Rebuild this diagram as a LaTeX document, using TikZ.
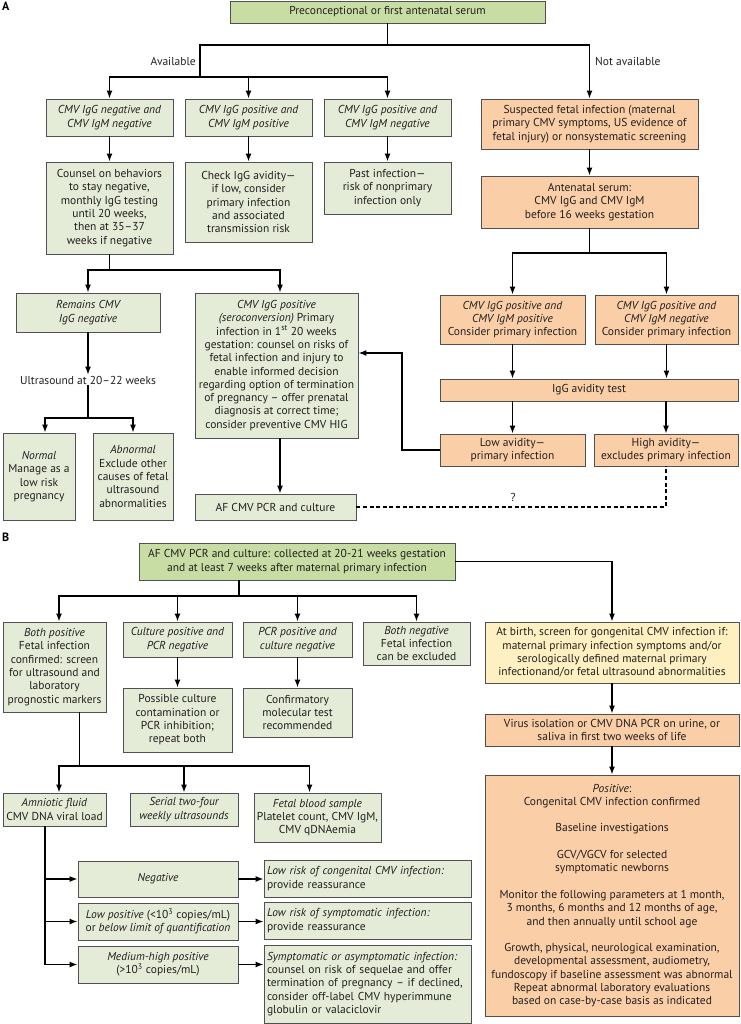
\documentclass[tikz,border=0pt]{standalone}
\usepackage{fontspec}
\setmainfont{PT Sans}
\usetikzlibrary{arrows.meta,calc}
\definecolor{lgreen}{RGB}{228,235,214}
\definecolor{dgreen}{RGB}{200,221,163}
\definecolor{orng}{RGB}{250,206,166}
\definecolor{ylw}{RGB}{254,240,192}
\definecolor{boxline}{RGB}{80,80,80}
\definecolor{txt}{RGB}{35,31,32}
\hyphenpenalty=10000
\exhyphenpenalty=10000
\newcommand{\bx}[7]{%
  \pgfmathsetmacro\bxX{(#3+#5)/2}%
  \pgfmathsetmacro\bxY{(#4+#6)/2}%
  \pgfmathsetmacro\bxW{#5-#3}%
  \pgfmathsetmacro\bxH{#6-#4}%
  \node[box,#1,minimum width=\bxW pt,minimum height=\bxH pt] (#2) at (\bxX,\bxY) {#7};}
\begin{document}
\begin{tikzpicture}[x=1pt,y=-1pt,
  box/.style={draw=boxline,line width=0.9pt,fill=lgreen,inner sep=0pt,align=center,
    text=txt,font=\fontsize{11.5pt}{13.3pt}\selectfont},
  dk/.style={fill=dgreen},
  or/.style={fill=orng},
  yl/.style={fill=ylw},
  lft/.style={align=left,text width=#1},
  ln/.style={line width=1.3pt,draw=black},
  arr/.style={ln,-{Latex[length=8pt,width=6pt]}},
  dsh/.style={ln,dash pattern=on 4pt off 2.6pt},
  lbl/.style={text=txt,inner sep=1pt,font=\fontsize{11.5pt}{13.3pt}\selectfont},
  pnl/.style={text=black,inner sep=0pt,font=\fontsize{12pt}{14pt}\selectfont\bfseries}]
\useasboundingbox (0,0) rectangle (740,1024);
\node[pnl,anchor=north west] (pA) at (2,2) {A};
\node[pnl,anchor=north west] (pB) at (2,533) {B};
% ---------- Panel A
\bx{dk}{top}{230}{1}{545}{23}{Preconceptional or first antenatal serum}
\bx{}{a1}{46}{99}{173}{136}{\itshape CMV IgG negative and\\\itshape CMV IgM negative}
\bx{}{a2}{185}{99}{312}{136}{\itshape CMV IgG positive and\\\itshape CMV IgM positive}
\bx{}{a3}{324}{99}{451}{136}{\itshape CMV IgG positive and\\\itshape CMV IgM negative}
\bx{or}{o1}{481}{99}{698}{149}{Suspected fetal infection (maternal\\primary CMV symptoms, US evidence of\\fetal injury) or nonsystematic screening}
\bx{}{b1}{46}{162}{173}{254}{Counsel on behaviors\\to stay negative,\\monthly IgG testing\\until 20 weeks,\\then at 35–37\\weeks if negative}
\bx{}{b2}{185}{162}{312}{242}{Check IgG avidity—\\if low, consider\\primary infection\\and associated\\transmission risk}
\bx{}{b3}{324}{162}{451}{214}{Past infection—\\risk of nonprimary\\infection only}
\bx{or}{o2}{481}{176}{698}{228}{Antenatal serum:\\CMV IgG and CMV IgM\\before 16 weeks gestation}
\bx{}{c1}{16}{293}{160}{332}{\itshape Remains CMV\\\itshape IgG negative}
\bx{}{c2}{195}{293}{358}{438}{\textit{CMV IgG positive}\\\textit{(seroconversion)} Primary\\infection in 1\textsuperscript{st} 20 weeks\\gestation: counsel on risks of\\fetal infection and injury to\\enable informed decision\\regarding option of termination\\of pregnancy – offer prenatal\\diagnosis at correct time;\\consider preventive CMV HIG}
\node[lbl] (us) at (88,380) {Ultrasound at 20–22 weeks};
\bx{}{d1}{3}{433}{75}{520}{\textit{Normal}\\Manage as a\\low risk\\pregnancy}
\bx{}{d2}{93}{433}{173}{520}{\textit{Abnormal}\\Exclude other\\causes of fetal\\ultrasound\\abnormalities}
\bx{}{e1}{195}{494}{356}{520}{AF CMV PCR and culture}
\bx{or}{o3}{440}{295}{585}{344}{\textit{CMV IgG positive and}\\\textit{CMV IgM positive}\\Consider primary infection}
\bx{or}{o4}{595}{295}{738}{344}{\textit{CMV IgG positive and}\\\textit{CMV IgM negative}\\Consider primary infection}
\bx{or}{o5}{440}{379}{738}{401}{IgG avidity test}
\bx{or}{o6}{440}{434}{585}{466}{Low avidity—\\primary infection}
\bx{or}{o7}{594}{434}{738}{466}{High avidity—\\excludes primary infection}
% connectors A
\coordinate (jA) at (387.5,45);
\coordinate (jAv) at (200,77);
\draw[arr] (top.south) -- (jA) -| (o1.north);
\draw[ln] (jA) -| (jAv);
\draw[arr] (jAv) -| (a1.north);
\draw[arr] (jAv) -| (a2.north);
\draw[arr] (jAv) -| (a3.north);
\node[lbl,anchor=east] (avl) at (197,61) {Available};
\node[lbl,anchor=west] (navl) at (594,61) {Not available};
\draw[arr] (a1.south) -- (b1.north);
\draw[arr] (a2.south) -- (b2.north);
\draw[arr] (a3.south) -- (b3.north);
\draw[arr] (o1.south) -- (o2.north);
\coordinate (jb) at (109.5,270);
\draw[ln] (b1.south) -- (jb);
\draw[arr] (jb) -| (c1.north);
\draw[arr] (jb) -| ([xshift=3.5pt]c2.north);
\draw[arr] (c1.south) -- (us.north);
\coordinate (ju) at (88,418);
\draw[ln] (us.south) -- (ju);
\draw[arr] (ju) -| ([xshift=6pt]d1.north);
\draw[arr] (ju) -| (d2.north);
\draw[arr] ([xshift=3.5pt]c2.south) -- ([xshift=3.5pt]c2.south |- e1.north);
\coordinate (jo) at (589.5,253);
\draw[ln] (o2.south) -- (jo);
\draw[arr] (jo) -| (o3.north);
\draw[arr] (jo) -| (o4.north);
\draw[arr] (o3.south) -- (o3.south |- o5.north);
\draw[arr] (o4.south) -- (o4.south |- o5.north);
\draw[arr] (o6.north |- o5.south) -- (o6.north);
\draw[arr] (o7.north |- o5.south) -- (o7.north);
\coordinate (fb) at (402,353);
\draw[arr] (o6.west) -| (fb) -- (fb -| c2.east);
\draw[dsh] (e1.east) -| (o7.south);
\node[lbl] (q) at (513,497) {?};
% ---------- Panel B
\bx{dk}{f0}{139}{543}{455}{580}{AF CMV PCR and culture: collected at 20-21 weeks gestation\\and at least 7 weeks after maternal primary infection}
\bx{}{g1}{3}{622}{106}{712}{\textit{Both positive}\\Fetal infection\\confirmed: screen\\for ultrasound and\\laboratory\\prognostic markers}
\bx{}{g2}{123}{622}{232}{657}{\itshape Culture positive and\\\itshape PCR negative}
\bx{}{g3}{243}{622}{352}{657}{\itshape PCR positive and\\\itshape culture negative}
\bx{}{g4}{363}{622}{470}{665}{\textit{Both negative}\\Fetal infection\\can be excluded}
\bx{yl}{y1}{485}{622}{739}{683}{At birth, screen for gongenital CMV infection if:\\maternal primary infection symptoms and/or\\serologically defined maternal primary\\infectionand/or fetal ultrasound abnormalities}
\bx{}{h2}{123}{688}{232}{752}{Possible culture\\contamination or\\PCR inhibition;\\repeat both}
\bx{}{h3}{243}{688}{352}{737}{Confirmatory\\molecular test\\recommended}
\bx{or}{y2}{485}{714}{739}{746}{Virus isolation or CMV DNA PCR on urine, or\\saliva in first two weeks of life}
\bx{or}{y3}{485}{775}{739}{1016}{\textit{Positive}:\\Congenital CMV infection confirmed\\[13.3pt]Baseline investigations\\[13.3pt]GCV/VGCV for selected\\symptomatic newborns\\[13.3pt]Monitor the following parameters at 1 month,\\3 months, 6 months and 12 months of age,\\and then annually until school age\\[13.3pt]Growth, physical, neurological examination,\\developmental assessment, audiometry,\\fundoscopy if baseline assessment was abnormal\\Repeat abnormal laboratory evaluations\\based on case-by-case basis as indicated}
\bx{}{i1}{3}{793}{106}{826}{\textit{Amniotic fluid}\\CMV DNA viral load}
\bx{}{i2}{130}{793}{238}{826}{\itshape Serial two-four\\\itshape weekly ultrasounds}
\bx{}{i3}{254}{793}{381}{842}{\textit{Fetal blood sample}\\Platelet count, CMV IgM,\\CMV qDNAemia}
\bx{}{j1}{78}{861}{238}{897}{\textit{Negative}}
\bx{}{j2}{78}{903}{238}{940}{\textit{Low positive} (<10\textsuperscript{3} copies/mL)\\or \textit{below limit of quantification}}
\bx{}{j3}{78}{946}{238}{983}{\textit{Medium-high positive}\\(>10\textsuperscript{3} copies/mL)}
\bx{lft=201pt}{k1}{264}{860}{471}{897}{\textit{Low risk of congenital CMV infection:}\\provide reassurance}
\bx{lft=201pt}{k2}{264}{902}{471}{939}{\textit{Low risk of symptomatic infection:}\\provide reassurance}
\bx{lft=201pt}{k3}{264}{945}{471}{1023}{\textit{Symptomatic or asymptomatic infection:}\\counsel on risk of sequelae and offer\\termination of pregnancy – if declined,\\consider off-label CMV hyperimmune\\globulin or valaciclovir}
% connectors B
\coordinate (jf) at (239,596);
\draw[ln] (f0.south -| jf) -- (jf);
\draw[arr] (jf) -| ([xshift=4.5pt]g1.north);
\draw[arr] (jf) -| (g2.north);
\draw[arr] (jf) -| (g3.north);
\draw[arr] (jf) -| (g4.north);
\draw[arr] (f0.east) -| (y1.north);
\draw[arr] (g2.south) -- (h2.north);
\draw[arr] (g3.south) -- (h3.north);
\draw[arr] (y1.south) -- (y2.north);
\draw[arr] (y2.south) -- (y3.north);
\coordinate (jg) at (79.5,766);
\draw[ln] (g1.south -| jg) -- (jg);
\draw[arr] (jg) -| ([xshift=4.5pt]i1.north);
\draw[arr] (jg) -| (i2.north);
\draw[arr] (jg) -| ([xshift=-8pt]i3.north);
\coordinate (ji) at (45,826);
\draw[ln] (ji) -- (ji |- j3.west);
\draw[arr] (ji |- j1.west) -- (j1.west);
\draw[arr] (ji |- j2.west) -- (j2.west);
\draw[arr] (ji |- j3.west) -- (j3.west);
\draw[arr] (j1.east) -- (j1.east -| k1.west);
\draw[arr] (j2.east) -- (j2.east -| k2.west);
\draw[arr] (j3.east) -- (j3.east -| k3.west);
\end{tikzpicture}
\end{document}
